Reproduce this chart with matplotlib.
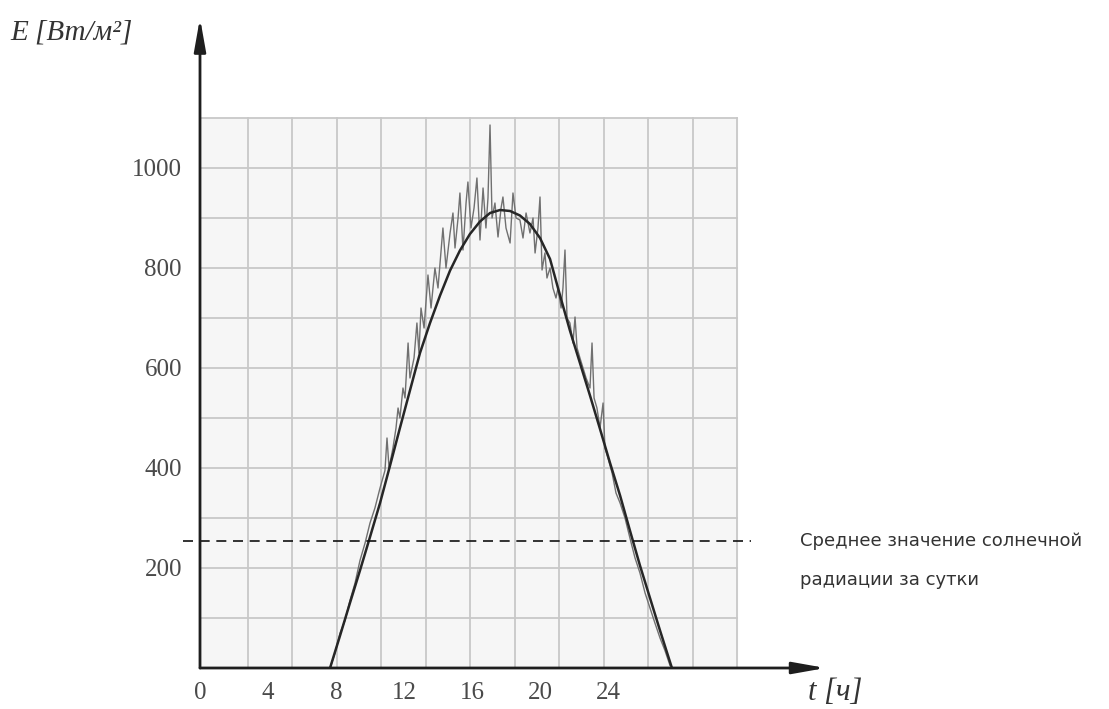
import matplotlib.pyplot as plt
import numpy as np

# time axis in hours (as labelled on the chart), irradiance in W/m2
t_fit = [7.65, 8.24, 8.82, 9.41, 10.0, 10.59, 11.18, 11.76, 12.35, 12.94, 13.53,
         14.12, 14.71, 15.29, 15.88, 16.47, 17.06, 17.65, 18.24, 18.82, 19.41,
         20.0, 20.59, 21.18, 21.76, 22.35, 22.94, 23.53, 24.12, 24.71, 25.29,
         25.88, 26.47, 27.06, 27.76]
e_fit = [0, 65, 130, 195, 262, 330, 405, 480, 555, 630, 690,
         745, 795, 835, 868, 893, 910, 916, 914, 905, 888,
         860, 818, 745, 675, 610, 545, 478, 410, 345, 275,
         205, 140, 75, 0]

t_meas = [7.65, 7.94, 8.24, 8.53, 8.82, 9.12, 9.41, 9.71, 10.0, 10.29, 10.59, 10.88,
          11.0, 11.12, 11.35, 11.53, 11.65, 11.76, 11.94, 12.06, 12.24, 12.35, 12.59,
          12.76, 12.88, 13.0, 13.18, 13.41, 13.59, 13.82, 14.0, 14.29, 14.47, 14.71,
          14.88, 15.0, 15.18, 15.29, 15.47, 15.65, 15.76, 15.94, 16.12, 16.29, 16.47,
          16.65, 16.82, 16.94, 17.06, 17.18, 17.35, 17.53, 17.71, 17.82, 18.0, 18.24,
          18.41, 18.59, 18.82, 19.0, 19.18, 19.41, 19.59, 19.71, 19.88, 20.0, 20.12,
          20.29, 20.41, 20.59, 20.76, 20.94, 21.06, 21.24, 21.35, 21.47, 21.59, 21.76,
          21.94, 22.06, 22.18, 22.35, 22.53, 22.71, 22.94, 23.06, 23.18, 23.35, 23.53,
          23.71, 23.82, 24.0, 24.24, 24.47, 24.71, 25.0, 25.29, 25.59, 25.88, 26.18,
          26.47, 26.76, 27.06, 27.35, 27.65]
e_meas = [0, 30, 70, 95, 135, 170, 215, 250, 290, 320, 360, 395,
          460, 400, 440, 480, 520, 500, 560, 540, 650, 580, 620,
          690, 630, 720, 680, 786, 720, 800, 760, 880, 800, 870,
          910, 840, 900, 950, 836, 930, 972, 880, 920, 980, 856,
          960, 880, 940, 1086, 900, 930, 862, 920, 942, 880, 850,
          950, 900, 896, 860, 910, 870, 900, 830, 880, 942, 796,
          830, 780, 800, 760, 740, 760, 720, 760, 836, 700, 690,
          650, 702, 640, 620, 600, 580, 560, 650, 540, 520, 480,
          530, 440, 420, 390, 350, 330, 300, 260, 220, 190, 150,
          120, 90, 60, 35, 5]

e_mean = 255
x_ticks = [0, 4, 8, 12, 16, 20, 24]
y_ticks = [200, 400, 600, 800, 1000]

fig = plt.figure(figsize=(11.09, 7.09), dpi=100)
ax = fig.add_axes([200 / 1109, 41 / 709, 909 / 1109, 668 / 709])
ax.set_xlim(0, 909 / 17)
ax.set_ylim(0, 1336)
for s in ax.spines.values():
    s.set_visible(False)

# background grid of the scanned sheet
grid_step = 44.5 / 17
grid_x0 = 3 / 17
grid_right = grid_x0 + 12 * grid_step
ax.fill_between([0, grid_right], 0, 1100, color='#f6f6f6', zorder=0)
for k in range(1, 13):
    ax.plot([grid_x0 + k * grid_step] * 2, [0, 1100], color='#c8c8c8', lw=1.3, zorder=1)
for v in range(100, 1200, 100):
    ax.plot([0, grid_right], [v, v], color='#c8c8c8', lw=1.3, zorder=1)

ax.plot(t_meas, e_meas, color='#707070', lw=1.0, zorder=3)
ax.plot(t_fit, e_fit, color='#262626', lw=1.8, zorder=4)

ax.plot([-1.0, 32.4], [e_mean, e_mean], color='#111111', lw=1.2,
        linestyle=(0, (6, 4)), clip_on=False, zorder=5)

# axes with arrows
arrow = dict(arrowstyle='-|>,head_length=0.9,head_width=0.16', mutation_scale=22,
             color='#1e1e1e', lw=2, shrinkA=0, shrinkB=0)
ax.annotate('', xy=(36.8, 0), xytext=(0, 0), arrowprops=arrow, zorder=6)
ax.annotate('', xy=(0, 1300), xytext=(0, 0), arrowprops=arrow, zorder=6)

ax.set_xticks(x_ticks)
ax.set_yticks(y_ticks)
ax.tick_params(length=0, labelsize=18, labelcolor='#4a4a4a')
ax.tick_params(axis='x', pad=10)
ax.tick_params(axis='y', pad=13)
for lab in ax.get_xticklabels() + ax.get_yticklabels():
    lab.set_family('Liberation Serif')

fig.text(10 / 1109, 1 - 32 / 709, 'E [Вт/м²]', family='Liberation Serif', style='italic',
         fontsize=21, color='#333333', va='center', ha='left')
fig.text(808 / 1109, 1 - 692 / 709, 't [ч]', family='Liberation Serif', style='italic',
         fontsize=22, color='#333333', va='center', ha='left')
fig.text(800 / 1109, 1 - 541 / 709, 'Среднее значение солнечной', family='DejaVu Sans',
         fontsize=13, color='#333333', va='center', ha='left')
fig.text(800 / 1109, 1 - 580 / 709, 'радиации за сутки', family='DejaVu Sans',
         fontsize=13, color='#333333', va='center', ha='left')

fig.savefig('out.png', dpi=100)
